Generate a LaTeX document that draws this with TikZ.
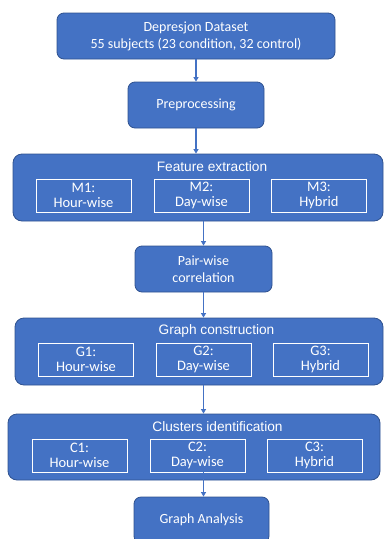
\documentclass[tikz,border=0pt]{standalone}
\usepackage{fontspec}
\setmainfont{Carlito}
\newfontfamily\headfont{Liberation Sans}
\usepackage{tikz}
\usetikzlibrary{positioning,arrows.meta}

\definecolor{officeblue}{HTML}{4472C4}
\definecolor{edgeblue}{HTML}{2F528F}

\begin{document}
\begin{tikzpicture}[x=1pt,y=-1pt,
                    step box/.style={rectangle,rounded corners=7pt,fill=officeblue,draw=edgeblue,line width=0.8pt,
                                     text=white,align=center,font=\fontsize{14}{17}\selectfont,inner sep=0pt},
                    stage box/.style={step box,rounded corners=9pt,minimum height=67pt},
                    stage title/.style={text=white,font=\headfont\fontsize{13.7}{15}\selectfont,inner sep=0pt},
                    sub box/.style={rectangle,draw=white,line width=0.9pt,text=white,align=center,
                                    minimum width=95pt,minimum height=33pt,inner sep=0pt,
                                    font=\fontsize{14.5}{15.5}\selectfont},
                    flow/.style={-{Triangle[width=5pt,length=4.5pt]},officeblue,line width=1.3pt}]
  \useasboundingbox (0,0) rectangle (384,539);

  \node[step box,minimum width=278pt,minimum height=46pt] (data) at (196,36) {Depresjon Dataset\\55 subjects (23 condition, 32 control)};
  \node[step box,minimum width=136pt,minimum height=46pt] (pre) at (196,105) {Preprocessing};

  % feature extraction
  \node[stage box,minimum width=370pt] (feat) at (198,187.5) {};
  \node[stage title] (feattitle) at (212,167) {Feature extraction};
  \node[sub box] (m1) at (83.5,195.5) {M1:\\Hour-wise};
  \node[sub box] (m2) at (201.5,195.5) {M2:\\Day-wise};
  \node[sub box] (m3) at (319,195.5) {M3:\\Hybrid};

  \node[step box,minimum width=137pt,minimum height=46pt] (pair) at (203.5,269) {Pair-wise\\correlation};

  % graph construction
  \node[stage box,minimum width=368pt] (graph) at (199,351.5) {};
  \node[stage title] (graphtitle) at (216.5,331) {Graph construction};
  \node[sub box] (g1) at (86,359.5) {G1:\\Hour-wise};
  \node[sub box] (g2) at (203.5,359.5) {G2:\\Day-wise};
  \node[sub box] (g3) at (320.5,359.5) {G3:\\Hybrid};

  % clusters identification
  \node[stage box,minimum width=372pt,minimum height=66pt] (clus) at (194,447) {};
  \node[stage title] (clustitle) at (217.5,427) {Clusters identification};
  \node[sub box] (c1) at (79.5,455.5) {C1:\\Hour-wise};
  \node[sub box] (c2) at (197.5,455.5) {C2:\\Day-wise};
  \node[sub box] (c3) at (314.5,455.5) {C3:\\Hybrid};

  \node[step box,minimum width=135pt,minimum height=46pt] (ga) at (201.5,520) {Graph Analysis};

  \path[flow]%
    (data) edge (pre)
    (pre) edge (pre.south |- feat.north)
    (feat.south -| pair.north) edge (pair.north)
    (pair.south) edge (pair.south |- graph.north)
    (graph.south -| pair.south) edge (clus.north -| pair.south)
    (c2.south -| pair.south) edge (ga.north -| pair.south);
\end{tikzpicture}
\end{document}
